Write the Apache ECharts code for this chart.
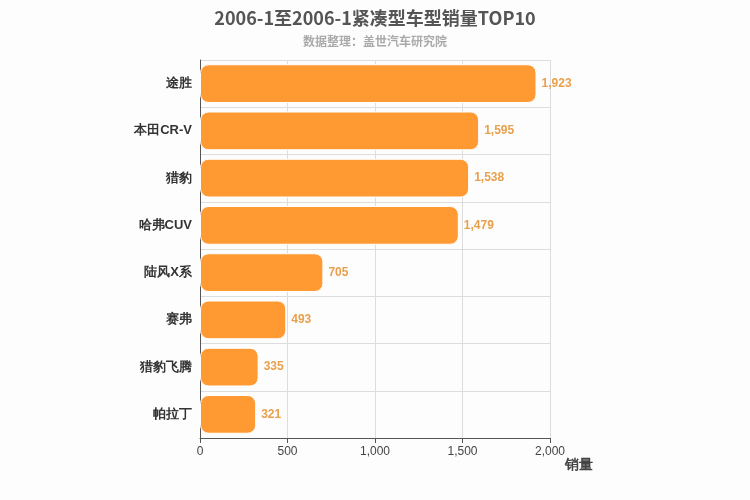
<!DOCTYPE html>
<html><head><meta charset="utf-8">
<script src="https://cdn.jsdelivr.net/npm/echarts@6/dist/echarts.min.js"></script>
<style>html,body{margin:0;padding:0;background:#fdfdfd}#c{width:750px;height:500px}</style>
</head><body><div id="c"></div>
<script>
const categories = ['途胜','本田CR-V','猎豹','哈弗CUV','陆风X系','赛弗','猎豹飞腾','帕拉丁'];
const values = [1923,1595,1538,1479,705,493,335,321];
const xTicks = [0,500,1000,1500,2000];
const chart = echarts.init(document.getElementById('c'));
chart.setOption({
  backgroundColor:'#fdfdfd',
  title:{text:'2006-1至2006-1紧凑型车型销量TOP10',subtext:'数据整理：盖世汽车研究院',left:'center',top:4,
    textStyle:{fontSize:18,fontWeight:'bold',color:'#555',fontFamily:'Noto Sans CJK SC'},
    subtextStyle:{fontSize:12,color:'#aaa',fontWeight:'bold',fontFamily:'Noto Sans CJK SC'},itemGap:8},
  grid:{left:200,right:200,top:60,bottom:62},
  xAxis:{type:'value',min:xTicks[0],max:xTicks[xTicks.length-1],interval:500,name:'销量',
    nameTextStyle:{fontSize:14,fontWeight:'bold',color:'#444',padding:[20,0,0,0],verticalAlign:'top'},
    axisLine:{show:true,lineStyle:{color:'#555'}},axisTick:{show:true},
    axisLabel:{color:'#444',fontSize:12},splitLine:{lineStyle:{color:'#ddd'}}},
  yAxis:{type:'category',data:categories,inverse:true,
    axisLine:{lineStyle:{color:'#555'}},axisTick:{show:false},
    axisLabel:{color:'#333',fontSize:13,fontWeight:'bold'},
    splitLine:{show:true,lineStyle:{color:'#ddd'}}},
  series:[{type:'bar',data:values,barWidth:'82%',
    itemStyle:{color:'#ff9a33',borderRadius:8,borderColor:'#fff',borderWidth:1},
    label:{show:true,position:'right',color:'#e9a04c',fontWeight:'bold',fontSize:12,
      formatter:p=>p.value.toLocaleString('en-US')}}]
});
</script></body></html>
